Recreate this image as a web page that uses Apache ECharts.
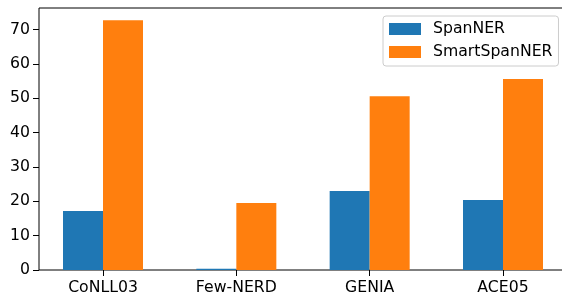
<html>
  <head>
    <meta charset="utf-8" />
    <title>SpanNER vs SmartSpanNER</title>
    <script type="text/javascript" src="https://cdn.jsdelivr.net/npm/echarts@6.0.0/dist/echarts.min.js"></script>
    <style>
      html, body { margin: 0; padding: 0; background: #fff; }
    </style>
  </head>
  <body>
      <div id="main" style="width:562px;height:295px;"></div>
      <script type="text/javascript">
        var categories = ['CoNLL03', 'Few-NERD', 'GENIA', 'ACE05'];
        var spanner = [17.2, 0.4, 23.0, 20.4];
        var smartSpanner = [72.7, 19.5, 50.6, 55.6];
        var yTicks = [0, 10, 20, 30, 40, 50, 60, 70];

        window.onload = function () {
            var myChart = echarts.init(document.getElementById('main'), null, { renderer: 'canvas' });
            var font = 'DejaVu Sans';
            var fs = 15.7;
            var catIdx = categories.map((c, i) => i);

            var option = {
              animation: false,
              grid: {
                  left: 39,
                  right: -5,
                  top: 8,
                  bottom: 25,
                  outerBoundsMode: 'none',
                  containLabel: false,
                  show: true,
                  borderColor: '#000',
                  borderWidth: 1,
                  backgroundColor: 'transparent'
              },
              legend: {
                  orient: 'vertical',
                  left: 383,
                  top: 16,
                  padding: [5, 6, 6, 6],
                  icon: 'rect',
                  itemWidth: 32,
                  itemHeight: 12,
                  itemGap: 7,
                  borderColor: '#cccccc',
                  borderWidth: 1,
                  borderRadius: 3,
                  backgroundColor: '#fff',
                  textStyle: {
                      fontFamily: font,
                      fontSize: fs,
                      color: '#000',
                      padding: [0, 0, 0, 7]
                  },
                  data: ['SpanNER', 'SmartSpanNER']
              },
              xAxis: {
                  type: 'value',
                  min: -0.48,
                  max: 3.48,
                  splitLine: { show: false },
                  axisLine: { show: false, onZero: false },
                  axisTick: {
                      show: true,
                      customValues: catIdx,
                      length: 6,
                      lineStyle: { color: '#000', width: 1 }
                  },
                  axisLabel: {
                      customValues: catIdx,
                      margin: 10,
                      fontFamily: font,
                      fontSize: fs,
                      color: '#000',
                      formatter: v => categories[Math.round(v)]
                  }
              },
              yAxis: {
                  type: 'value',
                  min: 0,
                  max: 76.3,
                  splitLine: { show: false },
                  axisLine: { show: false, onZero: false },
                  axisTick: {
                      show: true,
                      customValues: yTicks,
                      length: 6,
                      lineStyle: { color: '#000', width: 1 }
                  },
                  axisLabel: {
                      customValues: yTicks,
                      margin: 9,
                      fontFamily: font,
                      fontSize: fs,
                      color: '#000'
                  }
              },
              series: [
                {
                  name: 'SpanNER',
                  type: 'bar',
                  barWidth: 40,
                  barGap: '0%',
                  itemStyle: { color: '#1f77b4' },
                  data: spanner.map((v, i) => [i, v])
                },
                {
                  name: 'SmartSpanNER',
                  type: 'bar',
                  barWidth: 40,
                  barGap: '0%',
                  itemStyle: { color: '#ff7f0e' },
                  data: smartSpanner.map((v, i) => [i, v])
                }
              ]
            };
            myChart.setOption(option);
        };
      </script>
  </body>
</html>
